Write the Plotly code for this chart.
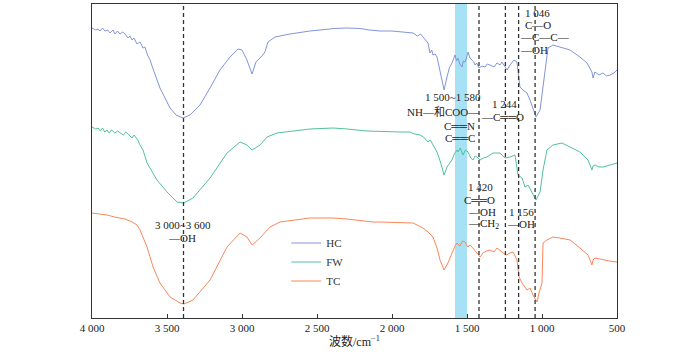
import plotly.graph_objects as go

# ---------------- data ----------------
hc_wn = [4000, 3975, 3960, 3947, 3930, 3913, 3895, 3880, 3860, 3847, 3830, 3813, 3795, 3780, 3760, 3747, 3733,
         3720, 3700, 3680, 3660, 3647, 3630, 3613, 3595, 3580, 3547, 3513, 3480, 3440, 3393, 3347, 3280,
         3213, 3147, 3080, 3027, 3000, 2967, 2933, 2907, 2867, 2847, 2827, 2780, 2680, 2547, 2413, 2393,
         2300, 2213, 2150, 2080, 2000, 1947, 1900, 1860, 1830, 1810, 1793, 1775, 1760, 1747, 1735, 1727, 1712, 1700,
         1680, 1665, 1653, 1635, 1618, 1600, 1590, 1580, 1570, 1560, 1548, 1533, 1525, 1513, 1500, 1493, 1480,
         1467, 1455, 1447, 1435, 1420, 1400, 1380, 1365, 1347, 1320, 1300, 1280, 1267, 1247, 1233, 1213,
         1187, 1167, 1153, 1147, 1127, 1100, 1080, 1060, 1040, 1013, 993, 973, 960, 927, 880, 813, 747, 700,
         667, 660, 647, 620, 593, 570, 547, 520, 500]
hc_t = [290, 288, 289, 287, 290, 287, 288, 285, 288, 284, 287, 284, 286, 284, 280, 282, 278,
        280, 274, 276, 270, 271, 263, 258, 250, 243, 230, 220, 210, 203, 200, 203, 213,
        230, 248, 261, 269, 268, 258, 244, 256, 262, 266, 276, 281, 284, 287, 289, 289.5,
        290, 289.5, 288, 287, 287, 286, 285, 285, 282, 284, 281, 278, 275, 265, 268, 263, 264, 261,
        248, 236, 228, 240, 250, 255, 259, 263, 257, 260, 254, 251, 257, 256, 262, 266, 260,
        258, 256, 253, 255, 250, 252, 251, 254, 253, 251, 255, 253, 256, 251, 248, 253,
        258, 256, 236, 231, 228, 225, 218, 210, 201, 208, 231, 258, 270, 273, 271, 268, 261, 255,
        246, 240, 246, 243, 245, 242, 243, 245, 248]

fw_wn = [4000, 3975, 3960, 3945, 3930, 3915, 3900, 3885, 3870, 3847, 3830, 3813, 3790, 3775, 3760, 3745, 3733,
         3720, 3710, 3695, 3680, 3660, 3633, 3600, 3567, 3500, 3433, 3387, 3327, 3213, 3100, 3013,
         2967, 2933, 2880, 2833, 2767, 2547, 2393, 2300, 2167, 1947, 1880, 1850, 1813, 1790, 1760, 1745, 1727, 1700,
         1675, 1653, 1633, 1615, 1600, 1585, 1567, 1560, 1545, 1527, 1510, 1493, 1475, 1460, 1445, 1433, 1413,
         1390, 1367, 1327, 1280, 1247, 1213, 1180, 1160, 1133, 1113, 1093, 1067, 1040, 1013, 993,
         967, 927, 867, 813, 747, 693, 667, 660, 647, 620, 593, 547, 500]
fw_t = [191, 189, 190, 187, 190, 186, 188, 185, 188, 185, 187, 185, 183, 186, 184, 182, 180,
        183, 181, 178, 173, 168, 155, 146, 138, 126, 116, 115, 120, 140, 165, 176,
        173, 168, 173, 181, 185, 189, 190, 189, 187, 186, 186, 184, 183, 181, 176, 178, 173, 166,
        155, 143, 151, 155, 158, 164, 168, 166, 170, 163, 168, 166, 160, 158, 162, 161, 158,
        160, 161, 165, 165, 160, 161, 163, 143, 140, 131, 133, 126, 118, 126, 148,
        168, 173, 175, 171, 166, 158, 148, 152, 153, 151, 151, 153, 155]

tc_wn = [4000, 3950, 3900, 3850, 3813, 3780, 3733, 3700, 3680, 3633, 3593, 3547, 3480, 3413, 3387, 3327,
         3213, 3100, 3013, 2967, 2933, 2880, 2813, 2747, 2547, 2393, 2300, 2127, 2080, 1860, 1793, 1760,
         1727, 1700, 1680, 1653, 1627, 1600, 1580, 1567, 1547, 1530, 1513, 1495, 1480, 1455, 1433, 1413,
         1393, 1370, 1347, 1320, 1300, 1267, 1240, 1213, 1193, 1167, 1153, 1133, 1100, 1080, 1060,
         1033, 1020, 1000, 993, 967, 927, 880, 813, 747, 693, 667, 660, 647, 593, 550, 500]
tc_t = [105, 104, 103, 101, 100, 99, 96, 93, 88, 71, 51, 35, 21, 15, 14, 18,
        38, 71, 85, 81, 73, 80, 91, 96, 100, 100, 99, 96, 96, 95, 90, 86,
        81, 70, 58, 48, 55, 66, 72, 75, 72, 77, 76, 71, 73, 69, 65, 61,
        65, 67, 68, 66, 70, 66, 63, 65, 66, 58, 41, 35, 28, 30, 23,
        16, 25, 35, 75, 78, 81, 80, 78, 70, 63, 53, 58, 60, 58, 57, 56]

series_names = ["HC", "FW", "TC"]
series_colors = ["#8295d8", "#52c295", "#fb875a"]

peak_lines = [3390, 1420, 1244, 1156, 1046]
band_range = [1580, 1500]

tick_vals = [4000, 3500, 3000, 2500, 2000, 1500, 1000, 500]
tick_text = ["4 000", "3 500", "3 000", "2 500", "2 000", "1 500", "1 000", "500"]

# label text, x (wavenumber), y (relative intensity)
labels = [
    ("1 046", 1027, 305),
    ("C—O", 1027, 293),
    ("—C—C—", 980, 281),
    ("—OH", 1053, 268),
    ("1 500~1 580", 1593, 221),
    ("NH—和COO—", 1660, 206),
    ("C══N", 1547, 192),
    ("C══C", 1547, 180),
    ("1 244", 1253, 214),
    ("—C══O", 1262, 201),
    ("1 420", 1407, 131),
    ("C══O", 1420, 118),
    ("—OH", 1400, 106),
    ("—CH<sub>2</sub>", 1387, 94),
    ("1 156", 1140, 106),
    ("—OH", 1140, 94),
    ("3 000~3 600", 3393, 93),
    ("—OH", 3400, 80),
]

FONT = "Liberation Serif, Times New Roman, Noto Sans CJK SC, serif"

# ---------------- figure ----------------
fig = go.Figure()
for name, color, wn, t in zip(series_names, series_colors,
                               [hc_wn, fw_wn, tc_wn], [hc_t, fw_t, tc_t]):
    fig.add_trace(go.Scatter(x=wn, y=t, mode="lines", name=name,
                             line=dict(color=color, width=1)))

fig.add_vrect(x0=band_range[0], x1=band_range[1], fillcolor="#a6e1f6",
              opacity=1, line_width=0, layer="below")
for p in peak_lines:
    fig.add_vline(x=p, line=dict(color="#333333", width=1.3, dash="4px,3px"))

for txt, x, y in labels:
    fig.add_annotation(x=x, y=y, text=txt, showarrow=False, xanchor="center",
                       yanchor="middle", font=dict(family=FONT, size=11, color="#222"))

fig.update_layout(
    width=700, height=354,
    margin=dict(l=92, r=83, t=4, b=36),
    paper_bgcolor="white", plot_bgcolor="white",
    font=dict(family=FONT, size=11, color="#222"),
    showlegend=True,
    legend=dict(x=0.37, y=0.285, xanchor="left", yanchor="top",
                bgcolor="rgba(0,0,0,0)", itemwidth=30,
                font=dict(family=FONT, size=11, color="#333")),
    xaxis=dict(range=[4000, 500], tickvals=tick_vals, ticktext=tick_text,
               ticks="inside", ticklen=4, tickcolor="#333",
               showline=True, linecolor="#333", linewidth=1, mirror=True,
               showgrid=False, zeroline=False,
               title=dict(text="波数/cm<sup>−1</sup>", standoff=2,
                          font=dict(family=FONT, size=12, color="#222"))),
    yaxis=dict(range=[0, 314], showticklabels=False, ticks="",
               showline=True, linecolor="#333", linewidth=1, mirror=True,
               showgrid=False, zeroline=False),
)

fig.write_html("out.html")
